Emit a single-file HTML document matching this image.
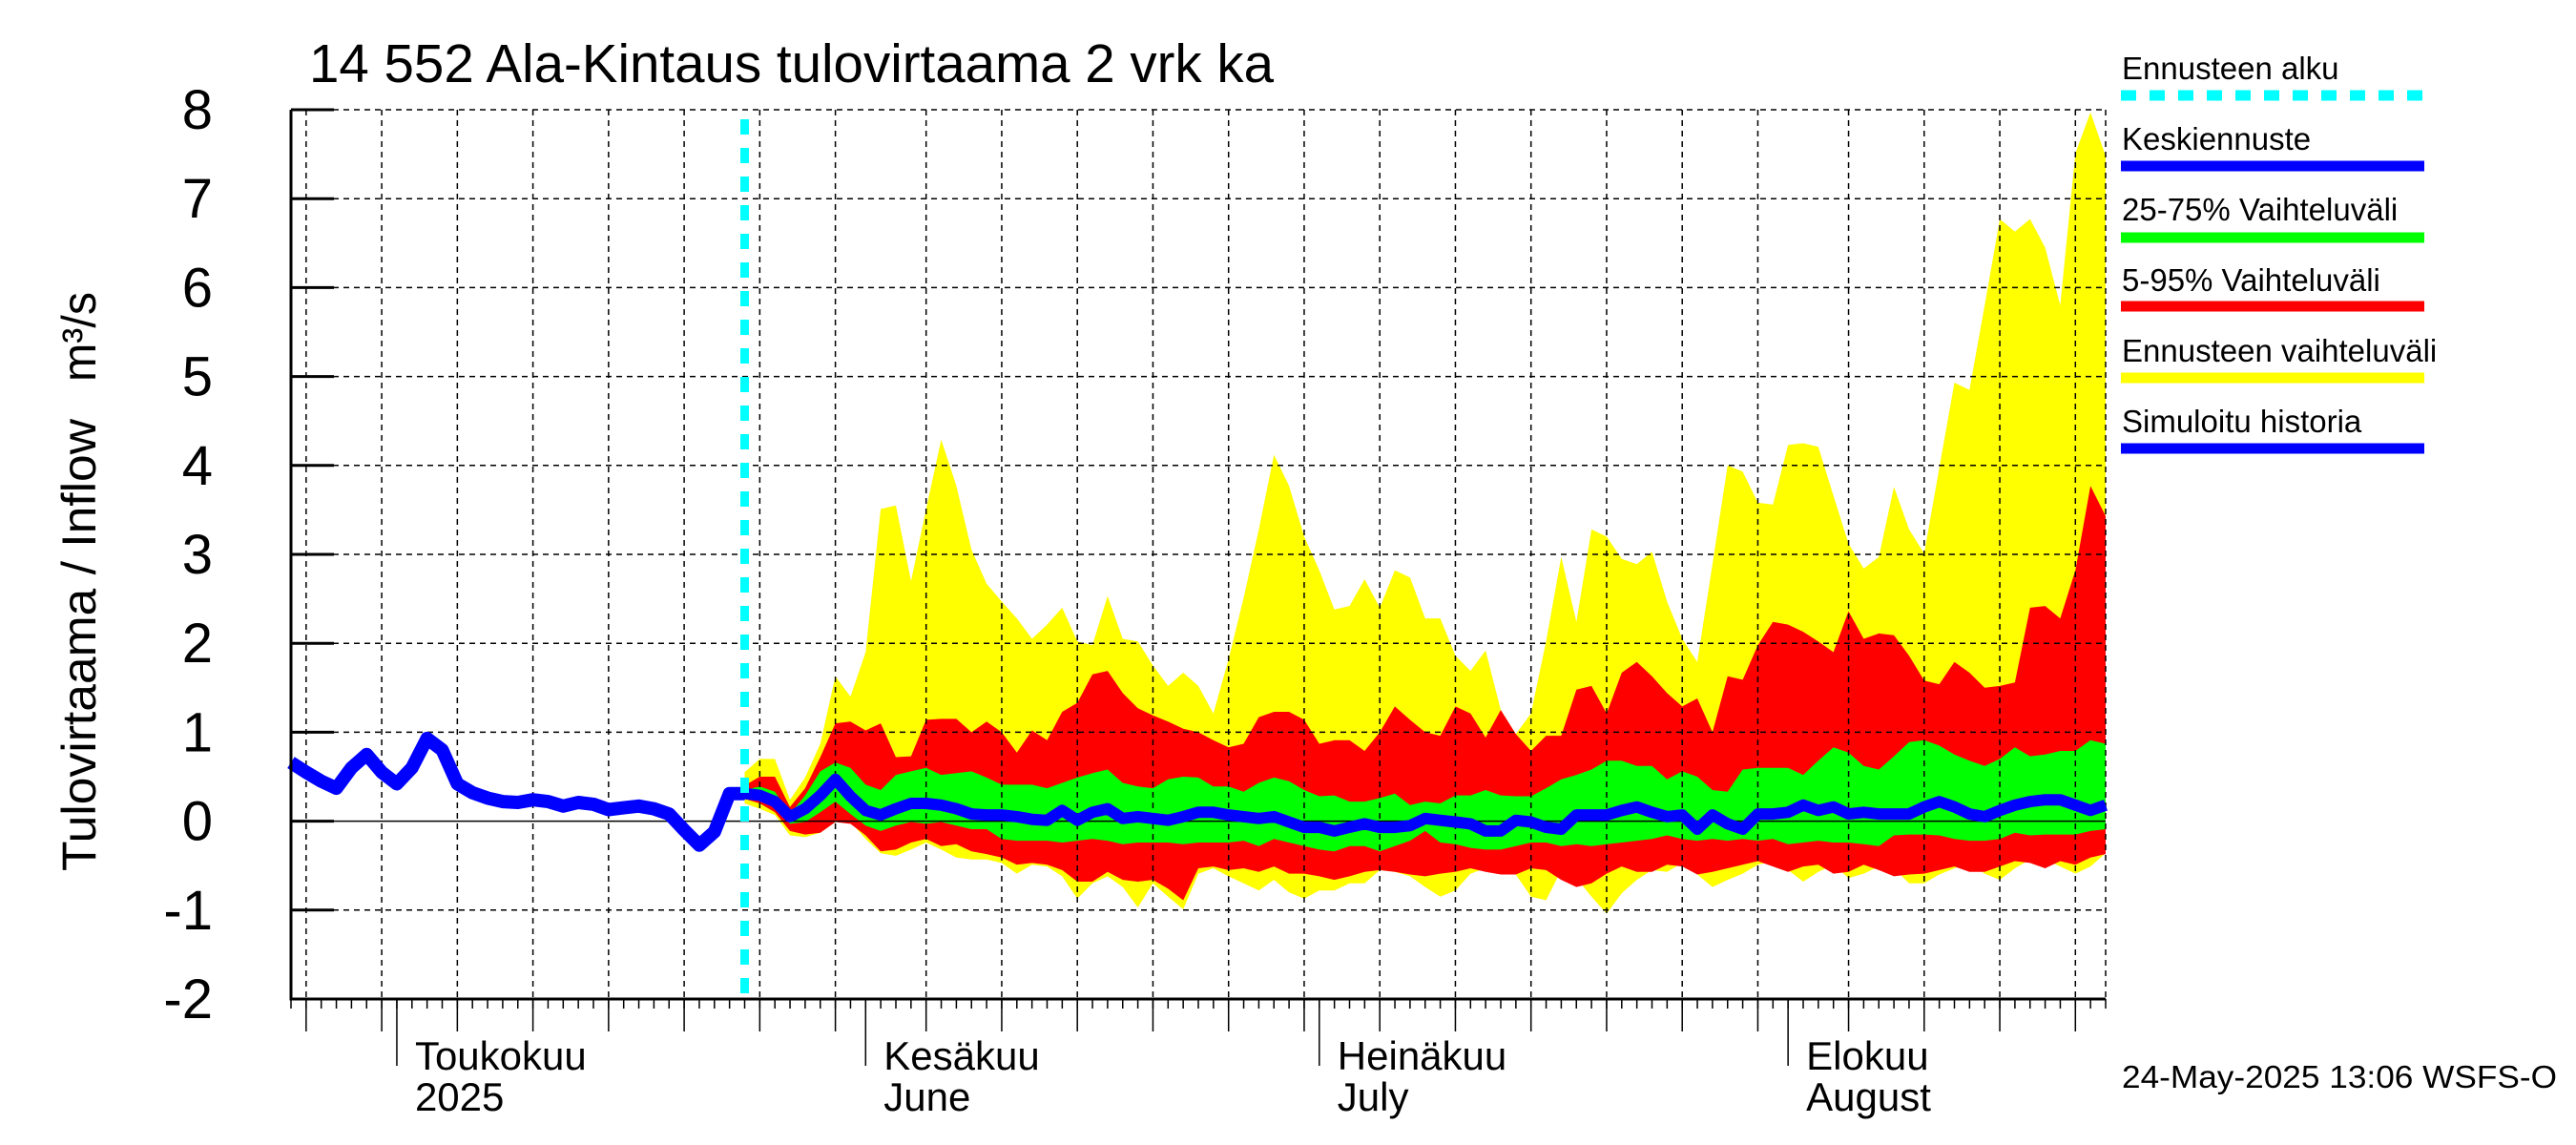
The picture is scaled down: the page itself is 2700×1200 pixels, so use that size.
<!DOCTYPE html>
<html><head><meta charset="utf-8"><title>Ala-Kintaus tulovirtaama</title>
<style>html,body{margin:0;padding:0;background:#fff;}svg{display:block;font-family:"Liberation Sans",sans-serif;}</style>
</head><body>
<svg id="chart" width="2700" height="1200" viewBox="0 0 2700 1200" xmlns="http://www.w3.org/2000/svg">
<rect x="0" y="0" width="2700" height="1200" fill="#fff"/>
<g id="bands"></g>
<g id="grid"></g>
<g id="lines"></g>
<g id="axes"></g>
<text x="324" y="86" font-size="57" textLength="1011" lengthAdjust="spacingAndGlyphs">14 552 Ala-Kintaus tulovirtaama 2 vrk ka</text>
<text transform="translate(100,676) rotate(-90)" text-anchor="middle" font-size="50" textLength="474" lengthAdjust="spacingAndGlyphs">Tulovirtaama / Inflow</text>
<text transform="translate(100,353) rotate(-90)" text-anchor="middle" font-size="50" textLength="94" lengthAdjust="spacingAndGlyphs">m³/s</text>
<g>
<text x="2224" y="83" font-size="33">Ennusteen alku</text>
<line x1="2223" y1="100" x2="2541" y2="100" stroke="#00ffff" stroke-width="11" stroke-dasharray="16,14"/>
<text x="2224" y="157" font-size="33">Keskiennuste</text>
<line x1="2223" y1="174" x2="2541" y2="174" stroke="#0000ff" stroke-width="11"/>
<text x="2224" y="231" font-size="33">25-75% Vaihteluväli</text>
<line x1="2223" y1="249" x2="2541" y2="249" stroke="#00ff00" stroke-width="11"/>
<text x="2224" y="305" font-size="33">5-95% Vaihteluväli</text>
<line x1="2223" y1="321" x2="2541" y2="321" stroke="#ff0000" stroke-width="11"/>
<text x="2224" y="379" font-size="33">Ennusteen vaihteluväli</text>
<line x1="2223" y1="396" x2="2541" y2="396" stroke="#ffff00" stroke-width="11"/>
<text x="2224" y="453" font-size="33">Simuloitu historia</text>
<line x1="2223" y1="470" x2="2541" y2="470" stroke="#0000ff" stroke-width="11"/>
</g>
<text x="2224" y="1140" font-size="33" textLength="456" lengthAdjust="spacingAndGlyphs">24-May-2025 13:06 WSFS-O</text>
</svg>
<script>
const yTicks = [-2,-1,0,1,2,3,4,5,6,7,8];
const monthStarts = [7,38,68,99];
const monthFi = ["Toukokuu","Kesäkuu","Heinäkuu","Elokuu"];
const monthEn = ["2025","June","July","August"];
const gridDays = [1,6,11,16,21,26,31,36,42,47,52,57,62,67,72,77,82,87,92,97,103,108,113,118];
const forecastStartDay = 30;
const historyVals = [0.66,0.55,0.45,0.37,0.6,0.75,0.55,0.42,0.6,0.93,0.8,0.42,0.32,0.26,0.22,0.21,0.24,0.22,0.17,0.21,0.19,0.13,0.15,0.17,0.14,0.08,-0.1,-0.27,-0.12,0.31,0.31];
const yellowTop = [0.55,0.70,0.70,0.24,0.49,0.87,1.63,1.40,1.90,3.51,3.55,2.70,3.51,4.29,3.77,3.05,2.67,2.47,2.28,2.05,2.21,2.40,2.02,1.98,2.53,2.05,2.02,1.75,1.52,1.67,1.52,1.21,1.82,2.51,3.28,4.12,3.77,3.20,2.82,2.38,2.42,2.72,2.40,2.82,2.74,2.28,2.28,1.86,1.69,1.92,1.25,0.98,1.21,2.02,2.97,2.24,3.28,3.20,2.95,2.89,3.03,2.47,2.05,1.79,2.89,4.00,3.93,3.58,3.56,4.23,4.25,4.21,3.66,3.12,2.84,2.97,3.76,3.28,3.01,3.97,4.93,4.85,5.80,6.77,6.63,6.77,6.45,5.80,7.51,7.97,7.48];
const redTop = [0.40,0.50,0.50,0.16,0.37,0.72,1.10,1.12,1.02,1.10,0.72,0.73,1.14,1.15,1.15,1.00,1.12,1.00,0.77,1.02,0.91,1.23,1.33,1.65,1.69,1.44,1.27,1.19,1.12,1.04,1.00,0.91,0.83,0.87,1.17,1.23,1.23,1.14,0.87,0.91,0.91,0.79,1.00,1.29,1.14,1.00,0.96,1.29,1.21,0.94,1.25,0.98,0.79,0.96,0.96,1.48,1.52,1.21,1.67,1.79,1.63,1.44,1.29,1.38,1.00,1.63,1.59,1.98,2.24,2.21,2.13,2.02,1.90,2.36,2.05,2.11,2.09,1.86,1.58,1.54,1.79,1.67,1.50,1.52,1.56,2.40,2.42,2.28,2.82,3.77,3.43];
const greenTop = [0.35,0.39,0.33,0.08,0.29,0.56,0.66,0.60,0.41,0.35,0.52,0.56,0.60,0.52,0.54,0.56,0.49,0.41,0.41,0.41,0.37,0.43,0.49,0.54,0.58,0.43,0.39,0.37,0.47,0.50,0.49,0.39,0.39,0.33,0.43,0.49,0.45,0.35,0.28,0.29,0.22,0.22,0.26,0.31,0.18,0.22,0.20,0.29,0.29,0.35,0.29,0.28,0.28,0.37,0.47,0.52,0.58,0.68,0.68,0.62,0.62,0.47,0.56,0.50,0.35,0.33,0.58,0.60,0.60,0.60,0.52,0.68,0.83,0.77,0.62,0.58,0.73,0.89,0.91,0.85,0.75,0.68,0.62,0.70,0.83,0.73,0.75,0.79,0.79,0.91,0.87];
const median = [0.31,0.29,0.22,0.05,0.14,0.29,0.47,0.28,0.12,0.07,0.14,0.20,0.20,0.18,0.14,0.08,0.07,0.07,0.05,0.02,0.01,0.12,0.01,0.10,0.14,0.03,0.05,0.03,0.01,0.05,0.10,0.10,0.07,0.05,0.03,0.05,-0.01,-0.07,-0.07,-0.11,-0.07,-0.03,-0.07,-0.07,-0.05,0.03,0.01,-0.01,-0.03,-0.11,-0.11,0.01,-0.01,-0.07,-0.09,0.07,0.07,0.07,0.12,0.16,0.10,0.05,0.07,-0.09,0.07,-0.03,-0.09,0.08,0.08,0.10,0.18,0.12,0.16,0.08,0.10,0.08,0.08,0.08,0.16,0.22,0.16,0.08,0.05,0.12,0.18,0.22,0.24,0.24,0.18,0.12,0.18];
const greenBot = [0.28,0.28,0.20,-0.03,-0.01,0.10,0.22,0.08,-0.05,-0.11,-0.05,-0.01,-0.03,-0.01,-0.05,-0.09,-0.09,-0.20,-0.22,-0.22,-0.22,-0.24,-0.22,-0.20,-0.22,-0.26,-0.24,-0.24,-0.24,-0.26,-0.24,-0.24,-0.24,-0.22,-0.28,-0.20,-0.24,-0.28,-0.32,-0.34,-0.28,-0.28,-0.34,-0.28,-0.22,-0.11,-0.24,-0.26,-0.30,-0.32,-0.32,-0.28,-0.24,-0.24,-0.28,-0.26,-0.28,-0.26,-0.24,-0.22,-0.20,-0.16,-0.20,-0.22,-0.20,-0.22,-0.20,-0.22,-0.20,-0.26,-0.24,-0.22,-0.24,-0.24,-0.26,-0.28,-0.16,-0.15,-0.15,-0.16,-0.20,-0.22,-0.22,-0.20,-0.13,-0.16,-0.15,-0.15,-0.15,-0.11,-0.09];
const redBot = [0.25,0.20,0.10,-0.11,-0.15,-0.13,-0.01,-0.03,-0.16,-0.34,-0.32,-0.24,-0.20,-0.28,-0.26,-0.34,-0.37,-0.41,-0.49,-0.47,-0.49,-0.55,-0.68,-0.68,-0.57,-0.66,-0.68,-0.66,-0.76,-0.89,-0.53,-0.51,-0.55,-0.53,-0.57,-0.51,-0.59,-0.59,-0.62,-0.66,-0.62,-0.57,-0.55,-0.57,-0.60,-0.62,-0.59,-0.57,-0.53,-0.57,-0.60,-0.60,-0.53,-0.55,-0.66,-0.74,-0.70,-0.59,-0.51,-0.57,-0.57,-0.49,-0.51,-0.60,-0.57,-0.53,-0.49,-0.45,-0.51,-0.57,-0.51,-0.49,-0.59,-0.57,-0.49,-0.55,-0.62,-0.60,-0.59,-0.55,-0.51,-0.57,-0.57,-0.51,-0.45,-0.47,-0.53,-0.45,-0.49,-0.41,-0.37];
const yellowBot = [0.20,0.14,0.07,-0.16,-0.18,-0.13,-0.01,-0.01,-0.20,-0.36,-0.39,-0.32,-0.24,-0.32,-0.41,-0.43,-0.43,-0.47,-0.59,-0.49,-0.51,-0.62,-0.87,-0.70,-0.62,-0.74,-0.97,-0.70,-0.85,-0.99,-0.59,-0.53,-0.62,-0.70,-0.78,-0.66,-0.80,-0.87,-0.78,-0.78,-0.70,-0.70,-0.55,-0.57,-0.62,-0.74,-0.85,-0.78,-0.59,-0.53,-0.53,-0.60,-0.85,-0.89,-0.55,-0.64,-0.85,-1.04,-0.81,-0.66,-0.55,-0.57,-0.47,-0.60,-0.74,-0.66,-0.59,-0.49,-0.45,-0.55,-0.68,-0.57,-0.49,-0.64,-0.59,-0.51,-0.53,-0.70,-0.70,-0.60,-0.53,-0.47,-0.59,-0.66,-0.53,-0.43,-0.43,-0.51,-0.59,-0.51,-0.36];

const X0 = 305, PXD = 15.85, XR = 2207, YT = 115, YB = 1047;
const xs = d => X0 + d * PXD;
const ys = v => YB - (v - (-2)) * (YB - YT) / 10;
const NS = "http://www.w3.org/2000/svg";
function mk(tag, parent, attrs) { const e = document.createElementNS(NS, tag); for (const k in attrs) e.setAttribute(k, attrs[k]); parent.appendChild(e); return e; }
const bands = document.getElementById('bands'), grid = document.getElementById('grid'), lines = document.getElementById('lines'), axes = document.getElementById('axes');

function band(top, bot, color, name) {
  const pts = [];
  top.forEach((v, i) => pts.push(xs(forecastStartDay + i).toFixed(1) + ',' + ys(v).toFixed(1)));
  for (let i = bot.length - 1; i >= 0; i--) pts.push(xs(forecastStartDay + i).toFixed(1) + ',' + ys(bot[i]).toFixed(1));
  const p = mk('polygon', bands, { points: pts.join(' '), fill: color });
  
  
}
band(yellowTop, yellowBot, '#ffff00', 'band-forecast-range');
band(redTop, redBot, '#ff0000', 'band-5-95');
band(greenTop, greenBot, '#00ff00', 'band-25-75');

yTicks.forEach(t => {
  if (t === -2) return;
  const l = mk('line', grid, { x1: X0, x2: XR, y1: ys(t), y2: ys(t), stroke: '#000', 'stroke-width': 1.5, 'stroke-dasharray': t === 0 ? 'none' : '6,5' });
  
  
});
gridDays.forEach(d => {
  const l = mk('line', grid, { x1: xs(d), x2: xs(d), y1: YT, y2: YB, stroke: '#000', 'stroke-width': 1.5, 'stroke-dasharray': '6,5' });
  
  
});
const rb = mk('line', grid, { x1: XR, x2: XR, y1: YT, y2: YB, stroke: '#000', 'stroke-width': 1.5, 'stroke-dasharray': '6,5' });



const hp = historyVals.map((v, i) => xs(i).toFixed(1) + ',' + ys(v).toFixed(1)).join(' ');
const hl = mk('polyline', lines, { points: hp, fill: 'none', stroke: '#0000ff', 'stroke-width': 14, 'stroke-linejoin': 'round' });


const mp = median.map((v, i) => xs(forecastStartDay + i).toFixed(1) + ',' + ys(v).toFixed(1)).join(' ');
const ml = mk('polyline', lines, { points: mp, fill: 'none', stroke: '#0000ff', 'stroke-width': 12, 'stroke-linejoin': 'round' });


const cy = mk('line', lines, { x1: xs(forecastStartDay), x2: xs(forecastStartDay), y1: YT + 10, y2: YB, stroke: '#00ffff', 'stroke-width': 9, 'stroke-dasharray': '16,14' });



const la = mk('line', axes, { x1: X0, x2: X0, y1: YT, y2: YB + 1.5, stroke: '#000', 'stroke-width': 3 });


const ba = mk('line', axes, { x1: X0, x2: XR, y1: YB, y2: YB, stroke: '#000', 'stroke-width': 3 });


yTicks.forEach(t => {
  const tk = mk('line', axes, { x1: X0, x2: X0 + 45, y1: ys(t), y2: ys(t), stroke: '#000', 'stroke-width': 3 });
  
  
  const tx = mk('text', axes, { x: 223, y: ys(t) + 20, 'text-anchor': 'end', 'font-size': 58 });
  tx.textContent = String(t);
  
  
});
for (let d = 0; d <= 120; d++) {
  const tk = mk('line', axes, { x1: xs(d), x2: xs(d), y1: YB, y2: YB + 10, stroke: '#000', 'stroke-width': 1.5 });
  
  
}
gridDays.forEach(d => {
  const tk = mk('line', axes, { x1: xs(d), x2: xs(d), y1: YB, y2: YB + 34, stroke: '#000', 'stroke-width': 1.5 });
  
  
});
monthStarts.forEach((d, i) => {
  const tk = mk('line', axes, { x1: xs(d), x2: xs(d), y1: YB, y2: YB + 70, stroke: '#000', 'stroke-width': 1.5 });
  
  
  const t1 = mk('text', axes, { x: xs(d) + 19, y: 1121, 'font-size': 42 });
  t1.textContent = monthFi[i];
  
  
  const t2 = mk('text', axes, { x: xs(d) + 19, y: 1164, 'font-size': 42 });
  t2.textContent = monthEn[i];
  
  
});
</script>
</body></html>
